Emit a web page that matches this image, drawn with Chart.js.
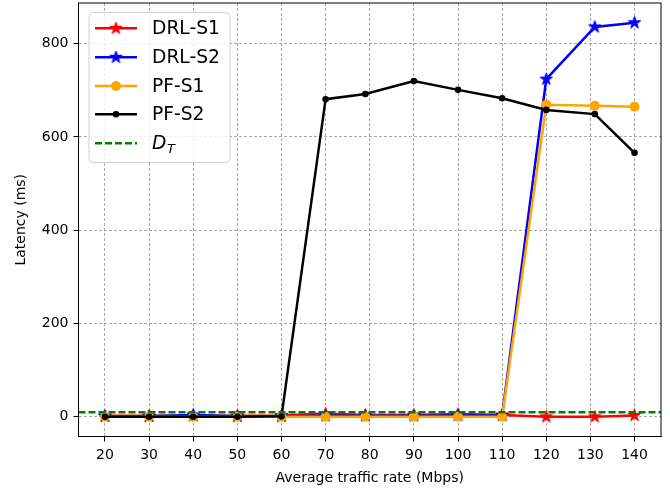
<!DOCTYPE html>
<html>
<head>
<meta charset="utf-8">
<script src="https://cdn.jsdelivr.net/npm/chart.js@4.4.0/dist/chart.umd.min.js"></script>
<style>
  html, body { margin: 0; padding: 0; background: #fff; }
  canvas { display: block; }
</style>
</head>
<body>
<canvas id="chart" width="670" height="490"></canvas>
<script>
// traffic rates (Mbps) and latency (ms)
const xRates = [20, 30, 40, 50, 60, 70, 79, 90, 100, 110, 120, 131, 140];
const drlS1 = [2, 2, 2, 2, 3, 7, 4, 4, 6, 4, 0, 0, 3];
const drlS2 = [1, 1, 4, 1, 1, 2, 2, 2, 3, 3, 724, 836, 845];
const pfS1 = [0, 0, 0, 0, 0, 0, 0, 0, 0, 0, 669, 667, 665];
const pfS2 = [0, 0, 0, 0, 1, 681, 692, 720, 701, 683, 658, 649, 566];
const thresholdMs = 10;

const xTicks = [20, 30, 40, 50, 60, 70, 80, 90, 100, 110, 120, 130, 140];
const yTicks = [0, 200, 400, 600, 800];

const FONT = 'DejaVu Sans';

// matplotlib-like 5% margins
const allY = drlS1.concat(drlS2, pfS1, pfS2, [thresholdMs]);
const yLo = Math.min(...allY), yHi = Math.max(...allY);
const xLo = Math.min(...xRates), xHi = Math.max(...xRates);
const yPad = (yHi - yLo) * 0.05, xPad = (xHi - xLo) * 0.05;

function starImage(color, r) {
  const c = document.createElement('canvas');
  const size = Math.ceil(r * 2 + 4);
  c.width = size; c.height = size;
  const g = c.getContext('2d');
  g.translate(size / 2, size / 2);
  g.beginPath();
  for (let i = 0; i < 10; i++) {
    const rad = i % 2 === 0 ? r : r * 0.382;
    const a = -Math.PI / 2 + i * Math.PI / 5;
    g.lineTo(rad * Math.cos(a), rad * Math.sin(a));
  }
  g.closePath();
  g.fillStyle = color;
  g.fill();
  g.strokeStyle = color;
  g.lineWidth = 1;
  g.stroke();
  return c;
}

const redStar = starImage('#ff0000', 6.5);
const blueStar = starImage('#0000ff', 6.5);

const pts = arr => arr.map((v, i) => ({ x: xRates[i], y: v }));

// frame on all four sides + threshold line
const framePlugin = {
  id: 'frame',
  afterDatasetsDraw(chart) {
    const { ctx, chartArea: a, scales } = chart;
    const y = scales.y.getPixelForValue(thresholdMs);
    ctx.save();
    ctx.beginPath();
    ctx.rect(a.left, a.top, a.right - a.left, a.bottom - a.top);
    ctx.clip();
    ctx.strokeStyle = '#008000';
    ctx.lineWidth = 2.5;
    ctx.setLineDash([7, 3]);
    ctx.beginPath();
    ctx.moveTo(a.left, y);
    ctx.lineTo(a.right, y);
    ctx.stroke();
    ctx.restore();
  },
  afterDraw(chart) {
    const { ctx, chartArea: a } = chart;
    ctx.save();
    ctx.strokeStyle = '#000';
    ctx.lineWidth = 1;
    ctx.strokeRect(a.left, a.top, a.right - a.left, a.bottom - a.top);
    ctx.restore();
  }
};

// legend drawn inside the axes, upper left
const legendPlugin = {
  id: 'innerLegend',
  afterDraw(chart) {
    const { ctx, chartArea: a } = chart;
    const bx = a.left + 10.5, by = a.top + 9.5, bw = 141, bh = 150;
    ctx.save();
    ctx.beginPath();
    ctx.roundRect(bx, by, bw, bh, 4);
    ctx.fillStyle = 'rgba(255,255,255,0.8)';
    ctx.fill();
    ctx.strokeStyle = '#d0d0d0';
    ctx.lineWidth = 1;
    ctx.stroke();

    const rows = [25.3, 54.3, 83, 111.3, 140.3].map(r => r + a.top);
    const x0 = 95, x1 = 137, tx = 152;
    const items = chart.data.datasets;
    ctx.font = `18.7px "${FONT}"`;
    ctx.textBaseline = 'middle';
    items.forEach((ds, i) => {
      const y = rows[i];
      ctx.strokeStyle = ds.borderColor;
      ctx.lineWidth = 2.5;
      ctx.setLineDash([]);
      ctx.beginPath();
      ctx.moveTo(x0, y); ctx.lineTo(x1, y);
      ctx.stroke();
      const mx = (x0 + x1) / 2;
      if (ds.pointStyle instanceof HTMLCanvasElement) {
        const s = ds.pointStyle;
        ctx.drawImage(s, mx - s.width / 2, y - s.height / 2);
      } else {
        ctx.fillStyle = ds.pointBackgroundColor;
        ctx.beginPath();
        ctx.arc(mx, y, ds.pointRadius, 0, Math.PI * 2);
        ctx.fill();
      }
      ctx.fillStyle = '#000';
      ctx.fillText(ds.label, tx, y + 1);
    });
    // threshold entry
    const y = rows[4];
    ctx.strokeStyle = '#008000';
    ctx.lineWidth = 2.5;
    ctx.setLineDash([7, 3]);
    ctx.beginPath();
    ctx.moveTo(x0, y); ctx.lineTo(x1, y);
    ctx.stroke();
    ctx.setLineDash([]);
    ctx.fillStyle = '#000';
    ctx.font = `italic 18.7px "${FONT}"`;
    ctx.fillText('D', tx, y + 1);
    const dw = ctx.measureText('D').width;
    ctx.font = `italic 13px "${FONT}"`;
    ctx.fillText('T', tx + dw + 0.5, y + 6);
    ctx.restore();
  }
};

const gridOpts = { color: 'rgba(128,128,128,0.85)', lineWidth: 0.8,
                   tickColor: '#000', tickLength: 5, tickWidth: 1 };
const borderOpts = { display: true, color: '#000', width: 1, dash: [3, 2] };

new Chart(document.getElementById('chart'), {
  type: 'line',
  data: {
    datasets: [
      { label: 'DRL-S1', data: pts(drlS1), borderColor: '#ff0000', backgroundColor: '#ff0000',
        pointStyle: redStar, order: 5 },
      { label: 'DRL-S2', data: pts(drlS2), borderColor: '#0000ff', backgroundColor: '#0000ff',
        pointStyle: blueStar, order: 4 },
      { label: 'PF-S1', data: pts(pfS1), borderColor: '#ffa500', pointBackgroundColor: '#ffa500',
        pointBorderColor: '#ffa500', pointStyle: 'circle', pointRadius: 5, order: 3 },
      { label: 'PF-S2', data: pts(pfS2), borderColor: '#000000', pointBackgroundColor: '#000000',
        pointBorderColor: '#000000', pointStyle: 'circle', pointRadius: 3.3, order: 2 }
    ]
  },
  options: {
    responsive: false,
    animation: false,
    devicePixelRatio: 1,
    layout: { autoPadding: false, padding: { top: 3, right: 9, left: 0, bottom: 0 } },
    elements: {
      line: { borderWidth: 2.5, tension: 0, fill: false },
      point: { radius: 6, hoverRadius: 6, borderWidth: 0 }
    },
    plugins: {
      legend: { display: false },
      tooltip: { enabled: false }
    },
    scales: {
      x: {
        type: 'linear',
        min: xLo - xPad,
        max: xHi + xPad,
        afterBuildTicks: s => { s.ticks = xTicks.map(v => ({ value: v })); },
        afterFit: s => { s.height = 53.5; s.paddingLeft = 0; s.paddingRight = 0; },
        ticks: { color: '#000', font: { family: FONT, size: 14 }, padding: 5, maxRotation: 0 },
        grid: gridOpts,
        border: borderOpts,
        title: { display: true, text: 'Average traffic rate (Mbps)', color: '#000',
                 font: { family: FONT, size: 14 }, padding: { top: 3.6, bottom: 3.6 } }
      },
      y: {
        type: 'linear',
        min: yLo - yPad,
        max: yHi + yPad,
        afterBuildTicks: s => { s.ticks = yTicks.map(v => ({ value: v })); },
        afterFit: s => { s.width = 78.5; s.paddingTop = 0; s.paddingBottom = 0; },
        ticks: { color: '#000', font: { family: FONT, size: 14 }, padding: 5 },
        grid: gridOpts,
        border: borderOpts,
        title: { display: true, text: 'Latency (ms)', color: '#000',
                 font: { family: FONT, size: 14 }, padding: { top: 13.3, bottom: 13.3 } }
      }
    }
  },
  plugins: [framePlugin, legendPlugin]
});
</script>
</body>
</html>
